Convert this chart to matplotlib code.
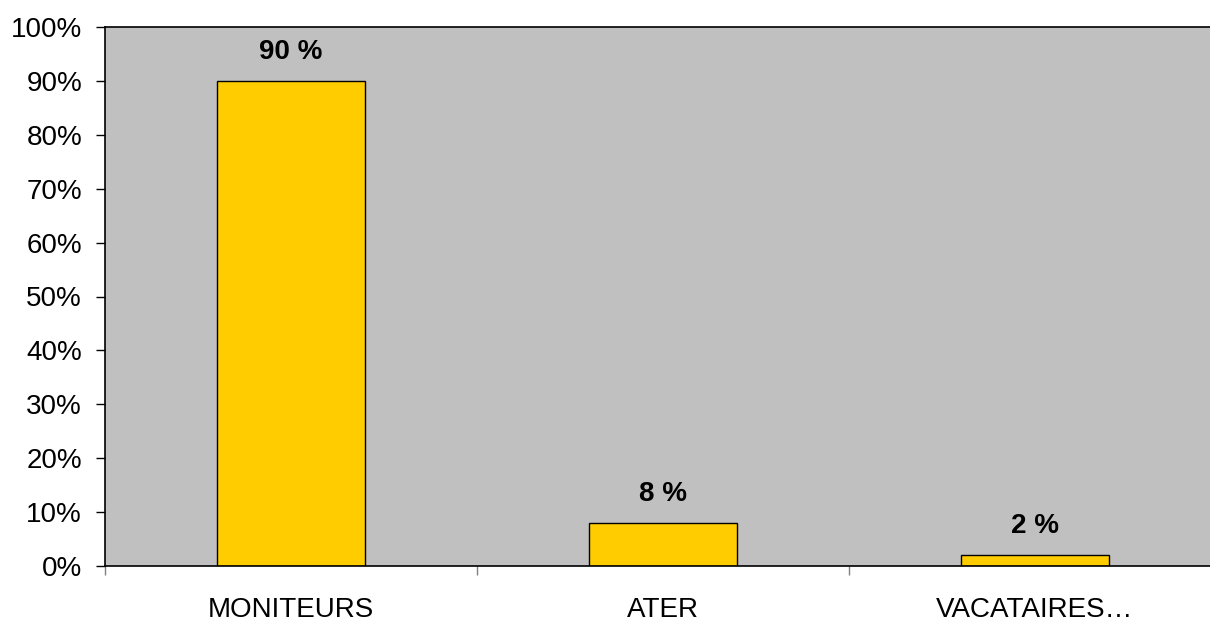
import matplotlib.pyplot as plt
import numpy as np
from matplotlib.ticker import FixedLocator, PercentFormatter

plt.rcParams['font.family'] = ['Liberation Sans', 'DejaVu Sans']

categories = ["MONITEURS", "ATER", "VACATAIRES…"]
values = [90, 8, 2]

fig = plt.figure(figsize=(12.1, 6.21), dpi=100)
# axes run slightly past the right edge of the figure
ax = fig.add_axes([105 / 1210, 1 - 566 / 621, 1116 / 1210, 539 / 621])
ax.set_facecolor("#C0C0C0")

x = np.arange(len(categories))
bars = ax.bar(x, values, width=0.4, color="#FFCC00", edgecolor="black", linewidth=1.0, zorder=2)

for b, v in zip(bars, values):
    ax.annotate(f"{v} %", (b.get_x() + b.get_width() / 2, v), xytext=(0, 21),
                textcoords="offset points", ha="center", va="center",
                fontsize=20, fontweight="bold")

ax.set_xlim(-0.5, len(categories) - 0.5)
ax.set_ylim(0, 100)
ax.set_yticks(np.arange(0, 101, 10))
ax.yaxis.set_major_formatter(PercentFormatter(decimals=0))
ax.tick_params(axis="y", labelsize=20, length=6.5, width=1.0, direction="out", pad=10)

# ticks between categories, labels at category centres
ax.set_xticks(x)
ax.set_xticklabels(categories)
ax.xaxis.set_minor_locator(FixedLocator(np.arange(-0.5, len(categories), 1)))
ax.tick_params(axis="x", which="major", length=0, labelsize=20, pad=22)
ax.tick_params(axis="x", which="minor", length=6.5, width=1.0, color="#808080")

for s in ax.spines.values():
    s.set_linewidth(1.2)
    s.set_color("black")

fig.savefig("out.png", dpi=100)
